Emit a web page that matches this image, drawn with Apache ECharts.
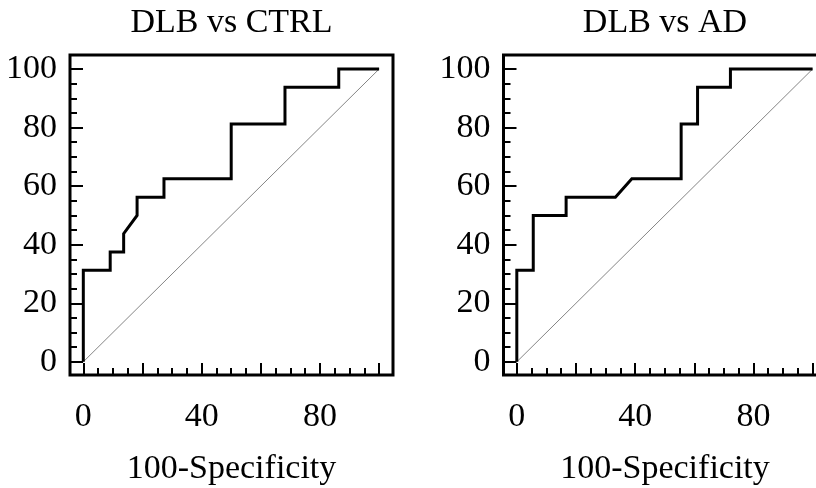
<!DOCTYPE html>
<html>
<head>
<meta charset="utf-8">
<script src="https://cdn.jsdelivr.net/npm/echarts@6/dist/echarts.min.js"></script>
<style>
html,body{margin:0;padding:0;background:#fff;}
#chart{width:816px;height:488px;}
</style>
</head>
<body>
<div id="chart"></div>
<script>
// ---- Data ----
var panelTitles = ['DLB vs CTRL', 'DLB vs AD'];
var xAxisTitle = '100-Specificity';

// DLB vs CTRL ROC curve (100-Specificity, Sensitivity)
var ctrlFpr = [0, 0, 9.09, 9.09, 13.64, 13.64, 18.18, 18.18, 27.27, 27.27, 50, 50, 68.18, 68.18, 86.36, 86.36, 100];
var ctrlTpr = [0, 31.25, 31.25, 37.5, 37.5, 43.75, 50, 56.25, 56.25, 62.5, 62.5, 81.25, 81.25, 93.75, 93.75, 100, 100];

// DLB vs AD ROC curve
var adFpr = [0, 0, 5.56, 5.56, 16.67, 16.67, 33.33, 38.89, 55.56, 55.56, 61.11, 61.11, 72.22, 72.22, 100];
var adTpr = [0, 31.25, 31.25, 50, 50, 56.25, 56.25, 62.5, 62.5, 81.25, 81.25, 93.75, 93.75, 100, 100];

// Reference diagonal
var diagX = [0, 100];
var diagY = [0, 100];

// Ticks
var yLabelValues = [0, 20, 40, 60, 80, 100];
var xLabelValues = [0, 40, 80];
var majorTickValues = [0, 20, 40, 60, 80, 100];
var minorTickValues = [5, 10, 15, 25, 30, 35, 45, 50, 55, 65, 70, 75, 85, 90, 95];

// ---- Chart ----
var FONT = "'Liberation Serif', 'Times New Roman', serif";
var FS = 34;
var grids = [
  {left: 70, top: 55, width: 323, height: 320},
  {left: 503.5, top: 55, width: 323, height: 320}
];
var XMIN = -4.5, XMAX = 104.7, YMIN = -4.5, YMAX = 104.8;

function pairs(xs, ys) { return xs.map(function (x, i) { return [x, ys[i]]; }); }

var option = {
  animation: false,
  backgroundColor: '#fff',
  title: panelTitles.map(function (t, i) {
    return {
      text: t,
      left: grids[i].left + grids[i].width / 2,
      top: 6,
      padding: 0,
      textAlign: 'center',
      textStyle: {fontFamily: FONT, fontSize: FS, fontWeight: 'normal', color: '#000'}
    };
  }),
  grid: grids.map(function (g) {
    return {left: g.left, top: g.top, width: g.width, height: g.height,
            outerBoundsMode: 'none', containLabel: false,
            show: true, borderColor: '#000', borderWidth: 3, backgroundColor: 'transparent'};
  }),
  xAxis: [],
  yAxis: [],
  series: []
};

grids.forEach(function (g, i) {
  // main x axis
  option.xAxis.push({
    type: 'value', gridIndex: i, min: XMIN, max: XMAX, position: 'bottom',
    axisLine: {show: false, onZero: false}, splitLine: {show: false},
    axisTick: {show: true, inside: true, length: 12, customValues: majorTickValues,
               lineStyle: {color: '#000', width: 2}},
    axisLabel: {show: true, customValues: xLabelValues, margin: 25,
                fontFamily: FONT, fontSize: FS, color: '#000'},
    name: xAxisTitle, nameLocation: 'middle', nameGap: 77,
    nameTextStyle: {fontFamily: FONT, fontSize: FS, color: '#000'}
  });
  // minor x axis
  option.xAxis.push({
    type: 'value', gridIndex: i, min: XMIN, max: XMAX, position: 'bottom', offset: 0,
    axisLine: {show: false, onZero: false}, splitLine: {show: false},
    axisTick: {show: true, inside: true, length: 7, customValues: minorTickValues,
               lineStyle: {color: '#000', width: 2}},
    axisLabel: {show: false}
  });
  // main y axis
  option.yAxis.push({
    type: 'value', gridIndex: i, min: YMIN, max: YMAX, position: 'left',
    axisLine: {show: false, onZero: false}, splitLine: {show: false},
    axisTick: {show: true, inside: true, length: 13, customValues: majorTickValues,
               lineStyle: {color: '#000', width: 2}},
    axisLabel: {show: true, customValues: yLabelValues, margin: 13,
                padding: [8, 0, 0, 0],
                fontFamily: FONT, fontSize: FS, color: '#000'}
  });
  // minor y axis
  option.yAxis.push({
    type: 'value', gridIndex: i, min: YMIN, max: YMAX, position: 'left', offset: 0,
    axisLine: {show: false, onZero: false}, splitLine: {show: false},
    axisTick: {show: true, inside: true, length: 7, customValues: minorTickValues,
               lineStyle: {color: '#000', width: 2}},
    axisLabel: {show: false}
  });
  // diagonal
  option.series.push({
    type: 'line', xAxisIndex: i * 2, yAxisIndex: i * 2,
    data: pairs(diagX, diagY), showSymbol: false, symbol: 'none', silent: true,
    lineStyle: {color: '#666', width: 0.8}, z: 2
  });
  // ROC curve
  var fx = i === 0 ? ctrlFpr : adFpr;
  var fy = i === 0 ? ctrlTpr : adTpr;
  option.series.push({
    type: 'line', xAxisIndex: i * 2, yAxisIndex: i * 2,
    data: pairs(fx, fy), showSymbol: false, symbol: 'none', silent: true,
    lineStyle: {color: '#000', width: 3, join: 'miter'}, z: 3
  });
});

var chart = echarts.init(document.getElementById('chart'), null, {renderer: 'canvas'});
chart.setOption(option);
</script>
</body>
</html>
